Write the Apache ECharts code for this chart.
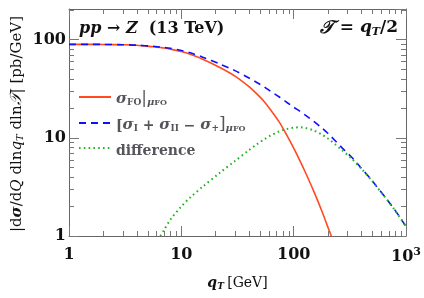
<!DOCTYPE html>
<html>
<head>
<meta charset="utf-8">
<script src="https://cdn.jsdelivr.net/npm/echarts@6/dist/echarts.min.js"></script>
<style>html,body{margin:0;padding:0;background:#fff}#c{width:424px;height:298px}</style>
</head>
<body>
<div id="c"></div>
<script>
// ---- data ----
const qT = [1, 1.5, 2, 3, 4, 5.6, 6.5, 7, 8, 10, 12, 15.5, 22, 30, 40, 47, 55, 62, 74, 87, 100, 114, 127, 150, 178, 200, 212, 233, 267, 330, 400, 490, 640, 790, 1000];
const sigmaFO = [89.5, 89.5, 89.3, 88.6, 87.6, 84.5, 83, 82.2, 80, 75.5, 70.8, 63.1, 52.0, 42.5, 33.2, 28, 23.2, 19.4, 14.6, 10.6, 7.85, 5.8, 4.46, 2.9, 1.8, 1.26, 1.06, 0.78, null, null, null, null, null, null, null];
const resummed = [89.5, 89.5, 89.3, 88.8, 87.8, 85.5, 84, 83.4, 81.5, 77.5, 73.3, 66.3, 56.4, 48.3, 40.7, 36.6, 32.9, 29.9, 26.2, 22.9, 20.5, 18.6, 17.0, 14.8, 12.6, 11.2, 10.5, 9.4, 8.0, 6.3, 4.9, 3.75, 2.55, 1.86, 1.25];
const difference = [null, null, null, null, null, null, 1.0, 1.15, 1.47, 2.0, 2.47, 3.18, 4.4, 5.8, 7.48, 8.59, 9.7, 10.5, 11.6, 12.3, 12.7, 12.8, 12.6, 11.9, 10.8, 9.9, 9.4, 8.6, 7.55, 6.1, 4.85, 3.72, 2.54, 1.85, 1.25];
const xMajorTicks = [1, 10, 100, 1000];
const xTickLabels = ['1', '10', '100', '10{sup|3}'];
const yMajorTicks = [1, 10, 100];
const yTickLabels = ['1', '10', '100'];
const xMinorTicks = [2,3,4,5,6,7,8,9,20,30,40,50,60,70,80,90,200,300,400,500,600,700,800,900];
const yMinorTicks = [2,3,4,5,6,7,8,9,20,30,40,50,60,70,80,90,200];
const xRange = [1, 1000];
const yRange = [1, 205];

const pairs = (ys) => qT.map((x, i) => [x, ys[i]]).filter(p => p[1] !== null);

const SERIF = 'DejaVu Serif';
const tickColor = '#777';
const chart = echarts.init(document.getElementById('c'), null, {renderer: 'canvas'});

const labelFmt = (ticks, labels) => (v) => {
  for (let i = 0; i < ticks.length; i++) if (Math.abs(v - ticks[i]) / ticks[i] < 1e-6) return labels[i];
  return '';
};

function axisCommon() {
  return {
    type: 'log', logBase: 10,
    axisLine: {show: true, lineStyle: {color: '#666', width: 1}},
    axisTick: {show: true, inside: true, length: 10, lineStyle: {color: tickColor}},
    splitLine: {show: false},
    minorTick: {show: false}
  };
}

const sub = {fontFamily: SERIF, fontSize: 9, fontWeight: 'bold', verticalAlign: 'bottom', lineHeight: 20, padding: [5, 0, 0, 0]};
const sub2 = {fontFamily: SERIF, fontSize: 8, fontWeight: 'bold', verticalAlign: 'bottom', lineHeight: 20, padding: [8, 0, 0, 0]};
const legendRich = {
  s: {fontFamily: SERIF, fontSize: 15, fontWeight: 'bold', fontStyle: 'italic', lineHeight: 20, verticalAlign: 'bottom'},
  t: {fontFamily: SERIF, fontSize: 14, fontWeight: 'bold', lineHeight: 20, verticalAlign: 'bottom'},
  sub: sub,
  mu: {fontFamily: SERIF, fontSize: 10, fontWeight: 'bold', fontStyle: 'italic', verticalAlign: 'bottom', lineHeight: 20, padding: [9, 0, 0, 0]},
  sub2: sub2,
  bar: {fontFamily: SERIF, fontSize: 17, lineHeight: 20, verticalAlign: 'bottom', padding: [4, 0, 0, 0]}
};
const legendNames = {
  fo: '{s|σ}{sub|FO}{bar||}{mu|μ}{sub2|FO}',
  res: '{t|[}{s|σ}{sub|I}{t| + }{s|σ}{sub|II}{t| − }{s|σ}{sub|+}{bar|]}{mu|μ}{sub2|FO}',
  diff: '{t|difference}'
};

const option = {
  animation: false,
  backgroundColor: '#fff',
  graphic: [
    {
      type: 'text', left: 79, top: 21, silent: true,
      style: {
        text: '{bi|pp}{b| → }{bi|Z}{b|  (13 TeV)}', fill: '#111',
        rich: {
          bi: {fontFamily: SERIF, fontSize: 16, fontWeight: 'bold', fontStyle: 'italic', fill: '#111'},
          b: {fontFamily: SERIF, fontSize: 16, fontWeight: 'bold', fill: '#111'}
        }
      }
    },
    {
      type: 'text', right: 26, top: 19, silent: true,
      style: {
        text: '{cal|𝒯}{b| = }{bi|q}{s|T}{b|/2}', fill: '#111',
        rich: {
          cal: {fontFamily: SERIF, fontSize: 18, fontWeight: 'bold', fontStyle: 'italic', fill: '#111'},
          bi: {fontFamily: SERIF, fontSize: 17, fontWeight: 'bold', fontStyle: 'italic', fill: '#111'},
          s: {fontFamily: SERIF, fontSize: 11, fontWeight: 'bold', fontStyle: 'italic', verticalAlign: 'bottom', padding: [8, 0, 0, 0], fill: '#111'},
          b: {fontFamily: SERIF, fontSize: 17, fontWeight: 'bold', fill: '#111'}
        }
      }
    },
    {
      type: 'text', x: 17, y: 124, rotation: Math.PI / 2, silent: true,
      style: {
        text: '{r||d}{s|σ}{r|/d}{i|Q}{r| dln}{i|q}{sub|T}{r| dln}{cal|𝒯}{r|| [pb/GeV]}',
        align: 'center', verticalAlign: 'middle', fill: '#111',
        rich: {
          r: {fontFamily: SERIF, fontSize: 15, fill: '#111'},
          s: {fontFamily: SERIF, fontSize: 15, fontWeight: 'bold', fontStyle: 'italic', fill: '#111'},
          i: {fontFamily: SERIF, fontSize: 15, fontStyle: 'italic', fill: '#111'},
          cal: {fontFamily: SERIF, fontSize: 16, fontStyle: 'italic', fill: '#111'},
          sub: {fontFamily: SERIF, fontSize: 10, fontStyle: 'italic', verticalAlign: 'bottom', padding: [6, 0, 0, 0], fill: '#111'}
        }
      }
    }
  ],
  legend: {
    orient: 'vertical', left: 78, top: 86, padding: 0,
    itemWidth: 32, itemHeight: 14, itemGap: 5,
    data: ['fo', 'res', 'diff'],
    formatter: (n) => legendNames[n],
    itemStyle: {opacity: 0},
    textStyle: {rich: legendRich, lineHeight: 20},
    selectedMode: false
  },
  grid: {left: 69, right: 15, top: 9, bottom: 62, containLabel: false},
  xAxis: [
    Object.assign(axisCommon(), {
      min: xRange[0], max: xRange[1], position: 'bottom',
      axisLabel: {formatter: labelFmt(xMajorTicks, xTickLabels), margin: 11, color: '#111',
        fontFamily: SERIF, fontWeight: 'bold', fontSize: 16,
        rich: {sup: {fontFamily: SERIF, fontWeight: 'bold', fontSize: 11, verticalAlign: 'top', padding: [0, 0, 8, 0]}}},
      name: '{bi|q}{s|T} {r|[GeV]}', nameLocation: 'middle', nameGap: 40,
      nameTextStyle: {color: '#111', rich: {
        bi: {fontFamily: SERIF, fontSize: 14, fontWeight: 'bold', fontStyle: 'italic'},
        s: {fontFamily: SERIF, fontSize: 9, fontWeight: 'bold', fontStyle: 'italic', verticalAlign: 'bottom', padding: [6, 0, 0, 0]},
        r: {fontFamily: SERIF, fontSize: 14}
      }}
    }),
    Object.assign(axisCommon(), {
      min: xRange[0], max: xRange[1], position: 'top',
      axisLabel: {show: false}
    })
  ],
  yAxis: [
    Object.assign(axisCommon(), {
      min: yRange[0], max: yRange[1], position: 'left',
      axisLabel: {formatter: labelFmt(yMajorTicks, yTickLabels), margin: 3, color: '#111',
        fontFamily: SERIF, fontWeight: 'bold', fontSize: 16, showMaxLabel: false}
    }),
    Object.assign(axisCommon(), {
      min: yRange[0], max: yRange[1], position: 'right',
      axisLabel: {show: false}
    })
  ],
  series: [
    {
      name: 'fo', type: 'line', data: pairs(sigmaFO), smooth: 0.3, showSymbol: false, symbol: 'none',
      lineStyle: {color: '#ff4b1f', width: 1.6, type: 'solid'}, itemStyle: {color: '#ff4b1f'}, z: 3
    },
    {
      name: 'res', type: 'line', data: pairs(resummed), smooth: 0.3, showSymbol: false, symbol: 'none',
      lineStyle: {color: '#1010ff', width: 1.6, type: [7, 5]}, itemStyle: {color: '#1010ff'}, z: 4
    },
    {
      name: 'diff', type: 'line', data: pairs(difference), smooth: 0.3, showSymbol: false, symbol: 'none',
      lineStyle: {color: '#22b422', width: 2, type: [1.6, 3.2]}, itemStyle: {color: '#22b422'}, z: 5
    },
    {
      name: 'xminor', type: 'custom', silent: true, z: 2,
      data: xMinorTicks.map(v => [v, yRange[0]]),
      renderItem: (params, api) => {
        const cs = params.coordSys;
        const x = Math.round(api.coord([api.value(0), api.value(1)])[0]) + 0.5;
        const yb = cs.y + cs.height, yt = cs.y;
        return {type: 'group', children: [
          {type: 'line', shape: {x1: x, y1: yb, x2: x, y2: yb - 5}, style: {stroke: tickColor, lineWidth: 1}},
          {type: 'line', shape: {x1: x, y1: yt, x2: x, y2: yt + 5}, style: {stroke: tickColor, lineWidth: 1}}
        ]};
      }
    },
    {
      name: 'yminor', type: 'custom', silent: true, z: 2,
      data: yMinorTicks.map(v => [xRange[0], v]),
      renderItem: (params, api) => {
        const cs = params.coordSys;
        const y = Math.round(api.coord([api.value(0), api.value(1)])[1]) + 0.5;
        const xl = cs.x, xr = cs.x + cs.width;
        return {type: 'group', children: [
          {type: 'line', shape: {x1: xl, y1: y, x2: xl + 5, y2: y}, style: {stroke: tickColor, lineWidth: 1}},
          {type: 'line', shape: {x1: xr, y1: y, x2: xr - 5, y2: y}, style: {stroke: tickColor, lineWidth: 1}}
        ]};
      }
    }
  ]
};
chart.setOption(option);
</script>
</body>
</html>
